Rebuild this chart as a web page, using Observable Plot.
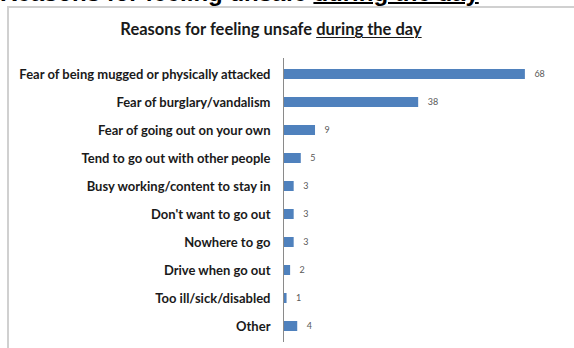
<!DOCTYPE html>
<html>
<head>
<meta charset="utf-8">
<script src="https://cdn.jsdelivr.net/npm/d3@7"></script>
<script src="https://cdn.jsdelivr.net/npm/@observablehq/plot@0.6"></script>
<style>
  html, body { margin: 0; padding: 0; background: #fff; width: 574px; height: 348px; overflow: hidden; }
  #page-heading { position: absolute; left: 0px; top: -19px; font: bold 24px/24px "Liberation Sans", Arial, sans-serif; color: #000; white-space: nowrap; }
  #page-heading u { text-decoration-thickness: 2px; }
  #frame { position: absolute; left: 7px; top: 6px; width: 600px; height: 400px; border-left: 2px solid #d0d0d0; border-top: 2px solid #d0d0d0; }
  #title { position: absolute; left: 0; width: 542px; top: 19px; text-align: center; font: bold 16.5px Lato, "Open Sans", sans-serif; color: #1a1a1a; }
  #title u { text-decoration-thickness: 1px; text-underline-offset: 2px; }
  #chart { position: absolute; left: 0; top: 0; }
</style>
</head>
<body>
<div id="page-heading">Reasons for feeling unsafe <u>during the day</u></div>
<div id="frame"></div>
<div id="title">Reasons for feeling unsafe <u>during the day</u></div>
<div id="chart"></div>
<script>
const categories = [
  "Fear of being mugged or physically attacked",
  "Fear of burglary/vandalism",
  "Fear of going out on your own",
  "Tend to go out with other people",
  "Busy working/content to stay in",
  "Don't want to go out",
  "Nowhere to go",
  "Drive when go out",
  "Too ill/sick/disabled",
  "Other"
];
const values = [68, 38, 9, 5, 3, 3, 3, 2, 1, 4];

const data = categories.map((c, i) => ({category: c, value: values[i]}));

const chart = Plot.plot({
  width: 574,
  height: 348,
  marginTop: 58,
  marginBottom: 6,
  marginLeft: 283,
  marginRight: 42,
  style: {background: "transparent", fontFamily: "Lato, 'Open Sans', sans-serif"},
  x: {domain: [0, 70], axis: null},
  y: {domain: categories, paddingInner: 0.646, paddingOuter: 0.353, label: null},
  marks: [
    Plot.axisY({tickSize: 0, tickPadding: 13, fontSize: 13, fontWeight: "bold", fill: "#1a1a1a", label: null}),
    Plot.barX(data, {x: "value", y: "category", fill: "#4f81bd"}),
    Plot.text(data, {x: "value", y: "category", text: d => String(d.value), dx: 9, textAnchor: "start", fontSize: 9, fill: "#595959"}),
    Plot.ruleX([0], {stroke: "#8a8a8a", strokeWidth: 1})
  ]
});
document.getElementById("chart").appendChild(chart);
</script>
</body>
</html>
